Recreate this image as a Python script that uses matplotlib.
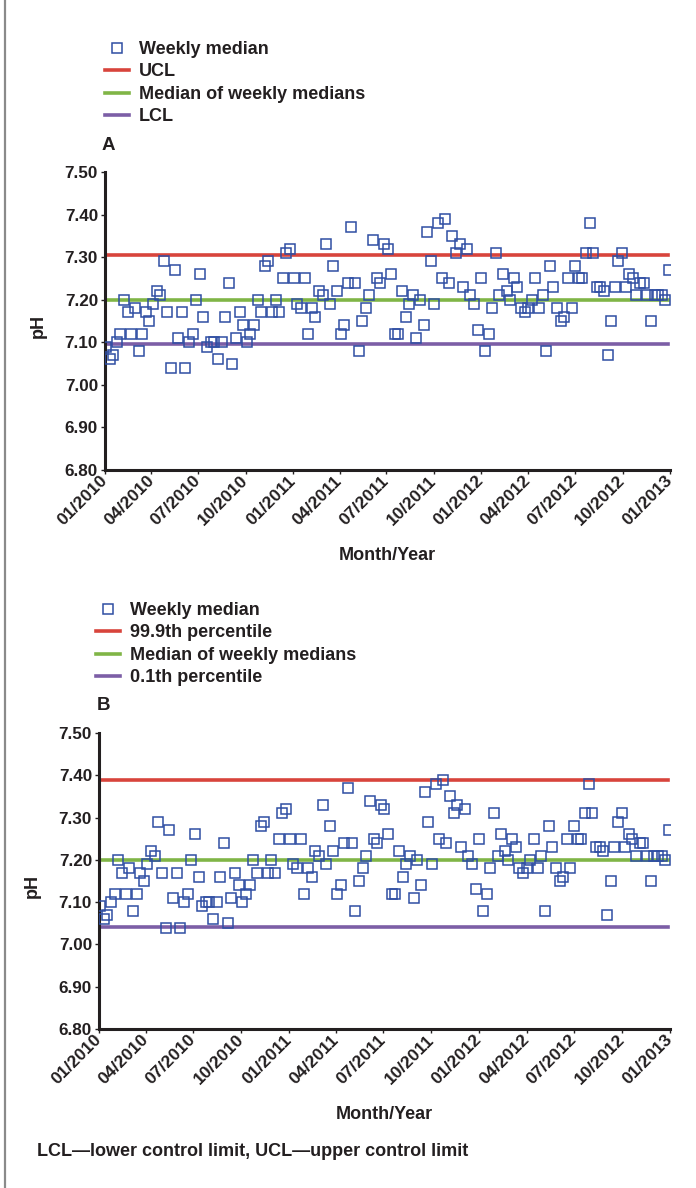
import matplotlib
matplotlib.use("Agg")
import matplotlib.pyplot as plt
import matplotlib.dates as mdates
from matplotlib.lines import Line2D
import pandas as pd

plt.rcParams['font.family'] = ['Liberation Sans', 'DejaVu Sans']
plt.rcParams['font.weight'] = 'bold'

# ---------------- data ----------------
first_week = '2010-01-03'
weekly_median = [
    7.09, 7.06, 7.07, 7.10, 7.12, 7.20, 7.17, 7.12, 7.18, 7.08,
    7.12, 7.17, 7.15, 7.19, 7.22, 7.21, 7.29, 7.17, 7.04, 7.27,
    7.11, 7.17, 7.04, 7.10, 7.12, 7.20, 7.26, 7.16, 7.09, 7.10,
    7.10, 7.06, 7.10, 7.16, 7.24, 7.05, 7.11, 7.17, 7.14, 7.10,
    7.12, 7.14, 7.20, 7.17, 7.28, 7.29, 7.17, 7.20, 7.17, 7.25,
    7.31, 7.32, 7.25, 7.19, 7.18, 7.25, 7.12, 7.18, 7.16, 7.22,
    7.21, 7.33, 7.19, 7.28, 7.22, 7.12, 7.14, 7.24, 7.37, 7.24,
    7.08, 7.15, 7.18, 7.21, 7.34, 7.25, 7.24, 7.33, 7.32, 7.26,
    7.12, 7.12, 7.22, 7.16, 7.19, 7.21, 7.11, 7.20, 7.14, 7.36,
    7.29, 7.19, 7.38, 7.25, 7.39, 7.24, 7.35, 7.31, 7.33, 7.23,
    7.32, 7.21, 7.19, 7.13, 7.25, 7.08, 7.12, 7.18, 7.31, 7.21,
    7.26, 7.22, 7.20, 7.25, 7.23, 7.18, 7.17, 7.18, 7.20, 7.25,
    7.18, 7.21, 7.08, 7.28, 7.23, 7.18, 7.15, 7.16, 7.25, 7.18,
    7.28, 7.25, 7.25, 7.31, 7.38, 7.31, 7.23, 7.23, 7.22, 7.07,
    7.15, 7.23, 7.29, 7.31, 7.23, 7.26, 7.25, 7.21, 7.24, 7.24,
    7.21, 7.15, 7.21, 7.21, 7.21, 7.20, 7.27,
]
week_dates = pd.date_range(first_week, periods=len(weekly_median), freq='7D')

median_of_medians = 7.20
ucl = 7.305
lcl = 7.097
pct_999 = 7.388
pct_001 = 7.041

labels_a = ['Weekly median', 'UCL', 'Median of weekly medians', 'LCL']
labels_b = ['Weekly median', '99.9th percentile', 'Median of weekly medians', '0.1th percentile']
y_ticks = [6.80, 6.90, 7.00, 7.10, 7.20, 7.30, 7.40, 7.50]
x_min, x_max = pd.Timestamp('2010-01-01'), pd.Timestamp('2013-01-01')
line_start, line_end = pd.Timestamp('2010-01-01'), pd.Timestamp('2012-12-28')
footnote = 'LCL\u2014lower control limit, UCL\u2014upper control limit'

# ---------------- style ----------------
W, H = 696, 1188
fig = plt.figure(figsize=(W / 100, H / 100), dpi=100)

C_MARK = '#2f4ea3'
C_RED = '#d8443c'
C_GREEN = '#80b546'
C_PURPLE = '#7c5ea6'
C_TEXT = '#231f20'


def px_axes(left, top, right, bottom):
    return fig.add_axes([left / W, 1 - bottom / H, (right - left) / W, (bottom - top) / H])


def panel(box, upper, lower, labels, leg_xy, letter, letter_xy, ylab_xy):
    ax = px_axes(*box)
    pts, = ax.plot(week_dates, weekly_median, ls='none', marker='s', ms=6.5,
                   mfc='none', mec=C_MARK, mew=1.1, label=labels[0], zorder=3)
    up, = ax.plot([line_start, line_end], [upper, upper], color=C_RED, lw=2.6,
                  label=labels[1], zorder=2)
    mid, = ax.plot([line_start, line_end], [median_of_medians, median_of_medians],
                   color=C_GREEN, lw=2.6, label=labels[2], zorder=2)
    lo, = ax.plot([line_start, line_end], [lower, lower], color=C_PURPLE, lw=2.6,
                  label=labels[3], zorder=2)
    ax.set_xlim(x_min, x_max)
    ax.set_ylim(6.80, 7.50)
    ax.set_yticks(y_ticks)
    ax.set_yticklabels([f'{v:.2f}' for v in y_ticks])
    ax.xaxis.set_major_locator(mdates.MonthLocator(bymonth=[1, 4, 7, 10]))
    ax.xaxis.set_major_formatter(mdates.DateFormatter('%m/%Y'))
    for s in ('top', 'right'):
        ax.spines[s].set_visible(False)
    for s in ('left', 'bottom'):
        ax.spines[s].set_linewidth(2.2)
        ax.spines[s].set_color(C_TEXT)
    ax.tick_params(axis='both', direction='out', length=3, width=1, color=C_TEXT,
                   labelcolor=C_TEXT)
    ax.tick_params(axis='y', pad=2, labelsize=12.3)
    ax.tick_params(axis='x', pad=3, labelsize=12.6)
    for t in ax.get_xticklabels():
        t.set_rotation(45)
        t.set_ha('right')
        t.set_va('center')
        t.set_rotation_mode('anchor')
        t.set_fontweight('bold')
    for t in ax.get_yticklabels():
        t.set_fontweight('bold')
    bw = box[2] - box[0]
    bh = box[3] - box[1]
    ax.set_ylabel('pH', fontsize=13, fontweight='bold', color=C_TEXT)
    ax.yaxis.set_label_coords((ylab_xy[0] - box[0]) / bw, (box[3] - ylab_xy[1]) / bh)
    ax.set_xlabel('Month/Year', fontsize=13, fontweight='bold', color=C_TEXT)
    ax.xaxis.set_label_coords(0.5, -(86 - 9) / bh)
    fig.legend([pts, up, mid, lo], labels, loc='upper left',
               bbox_to_anchor=(leg_xy[0] / W, 1 - leg_xy[1] / H),
               frameon=False, borderpad=0, borderaxespad=0, handlelength=1.33,
               handletextpad=0.55, labelspacing=0.3, numpoints=1,
               prop={'size': 13, 'weight': 'bold'}, labelcolor=C_TEXT)
    fig.text(letter_xy[0] / W, 1 - letter_xy[1] / H, letter, fontsize=13.5,
             fontweight='bold', color=C_TEXT, ha='left', va='center')
    return ax


axA = panel((105, 172, 670, 470), ucl, lcl, labels_a, (105, 41), 'A', (102, 146), (47, 326))
axB = panel((99, 733, 670, 1029), pct_999, pct_001, labels_b, (96, 602), 'B', (97, 705), (41, 886))

fig.text(37 / W, 1 - 1152 / H, footnote, fontsize=13, fontweight='bold',
         color=C_TEXT, ha='left', va='center')

fig.add_artist(Line2D([5 / W, 5 / W], [0, 1], color='#8a8a8a', lw=1.6))

fig.savefig('out.png', dpi=100)
